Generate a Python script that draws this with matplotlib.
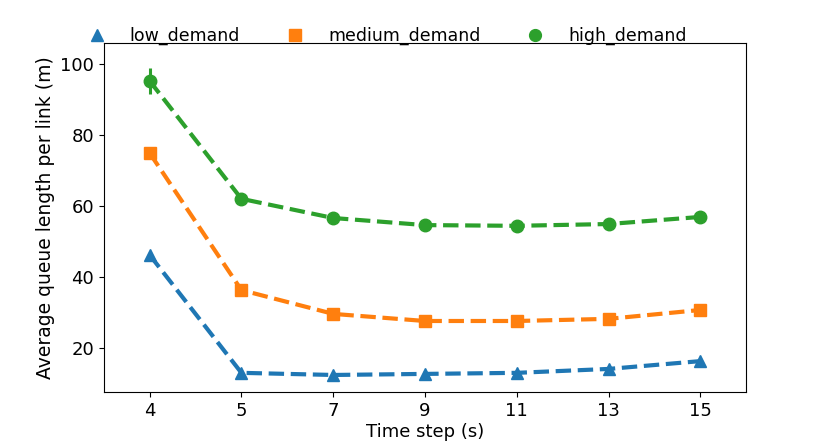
import matplotlib
matplotlib.use("Agg")
import matplotlib.pyplot as plt
import numpy as np

# ====== data ======
time_steps = ["4", "5", "7", "9", "11", "13", "15"]
low_demand = [46.2, 13.0, 12.4, 12.7, 13.0, 14.1, 16.3]
medium_demand = [74.9, 36.3, 29.6, 27.6, 27.6, 28.2, 30.7]
high_demand = [95.2, 62.0, 56.6, 54.6, 54.4, 54.9, 56.9]
# error bars (only visible at first step)
low_err = [0.6, 0.3, 0.2, 0.2, 0.2, 0.2, 0.3]
medium_err = [0.8, 0.5, 0.3, 0.3, 0.3, 0.3, 0.3]
high_err = [3.6, 0.5, 0.4, 0.3, 0.3, 0.3, 0.4]

series = [
    ("low_demand", low_demand, low_err, "^", "#1f77b4"),
    ("medium_demand", medium_demand, medium_err, "s", "#ff7f0e"),
    ("high_demand", high_demand, high_err, "o", "#2ca02c"),
]

# ====== plot ======
fig = plt.figure(figsize=(8.3, 4.47), dpi=100)
ax = fig.add_axes([0.125, 0.123, 0.774, 0.781])

pos = np.arange(len(time_steps))
for name, vals, err, mk, col in series:
    ax.errorbar(pos, vals, yerr=err, fmt="none", ecolor=col, elinewidth=2.2)
    ax.plot(pos, vals, linestyle="--", linewidth=3, marker=mk, markersize=9,
            color=col, label=name)

ax.set_xticks(pos)
ax.set_xticklabels(time_steps)
ax.set_xlim(-0.5, len(time_steps) - 0.5)
ax.set_ylim(7.6, 105.9)
ax.set_yticks([20, 40, 60, 80, 100])
ax.tick_params(labelsize=13)
ax.set_xlabel("Time step (s)", fontsize=13, labelpad=2)
ax.set_ylabel("Average queue length per link (m)", fontsize=13.5)

# legend: markers only, no frame, above the axes
handles = [plt.Line2D([], [], linestyle="none", marker=mk, color=col, markersize=8.5)
           for _, _, _, mk, col in series]
fig.legend(handles, [s[0] for s in series], loc="upper left",
           bbox_to_anchor=(0.082, 0.975), ncol=3, frameon=False, fontsize=12.5,
           handlelength=1.5, columnspacing=2.42, handletextpad=1.15)

plt.savefig("out.png")
